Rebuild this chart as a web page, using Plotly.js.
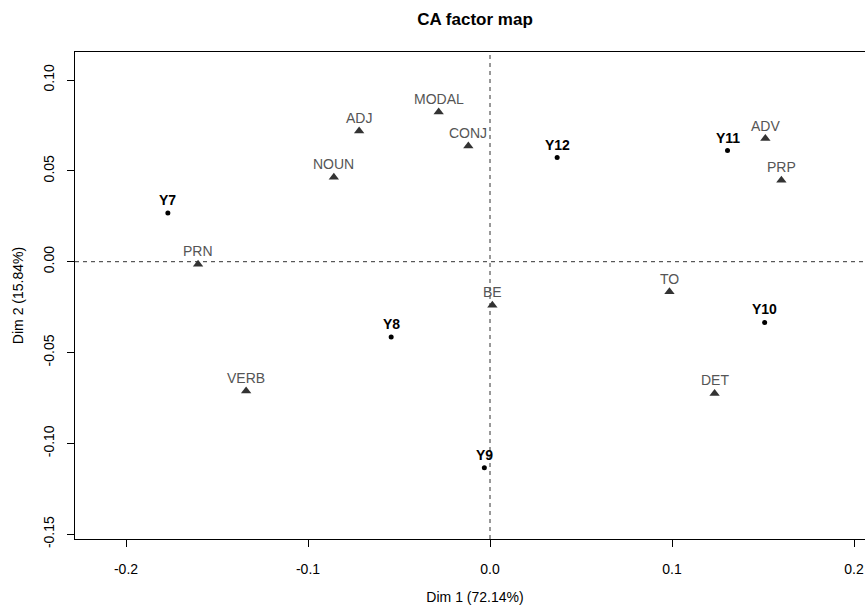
<!DOCTYPE html>
<html>
<head>
<meta charset="utf-8">
<script src="https://cdn.plot.ly/plotly-3.0.1.min.js"></script>
<style>
html, body { margin: 0; padding: 0; overflow: hidden; background: #fff; }
#chart { width: 885px; height: 610px; }
</style>
</head>
<body>
<div id="chart"></div>
<script>
// Row points (years)
const rowLabels = ["Y7", "Y8", "Y9", "Y10", "Y11", "Y12"];
const rowDim1 = [-0.1770, -0.0543, -0.0031, 0.1509, 0.1305, 0.0369];
const rowDim2 = [0.0268, -0.0415, -0.1134, -0.0334, 0.0612, 0.0573];

// Column points (parts of speech)
const colLabels = ["MODAL", "ADJ", "CONJ", "NOUN", "PRN", "BE", "VERB", "ADV", "PRP", "TO", "DET"];
const colDim1 = [-0.0282, -0.0719, -0.0119, -0.0858, -0.1604, 0.0013, -0.1340, 0.1513, 0.1601, 0.0986, 0.1234];
const colDim2 = [0.0824, 0.0719, 0.0637, 0.0465, -0.0014, -0.0239, -0.0712, 0.0678, 0.0448, -0.0166, -0.0725];

// Tick labels
const xTickVals = [-0.2, -0.1, 0.0, 0.1, 0.2];
const xTickText = ["-0.2", "-0.1", "0.0", "0.1", "0.2"];
const yTickVals = [0.10, 0.05, 0.00, -0.05, -0.10, -0.15];
const yTickText = ["0.10", "0.05", "0.00", "-0.05", "-0.10", "-0.15"];

const FONT = "Liberation Sans, Arial, Helvetica, sans-serif";

const traces = [
  {
    type: "scatter", mode: "markers",
    x: rowDim1, y: rowDim2,
    marker: { symbol: "circle", size: 5, color: "#000000" },
    hoverinfo: "skip", showlegend: false
  },
  {
    type: "scatter", mode: "markers",
    x: colDim1, y: colDim2,
    marker: { symbol: "triangle-up", size: 9, color: "#333333" },
    hoverinfo: "skip", showlegend: false
  }
];

const annotations = [];
rowLabels.forEach((t, i) => annotations.push({
  x: rowDim1[i], y: rowDim2[i], xref: "x", yref: "y", text: "<b>" + t + "</b>",
  showarrow: false, yshift: 13, font: { family: FONT, size: 14, color: "#000000" }
}));
colLabels.forEach((t, i) => annotations.push({
  x: colDim1[i], y: colDim2[i], xref: "x", yref: "y", text: t,
  showarrow: false, yshift: 13, font: { family: FONT, size: 14, color: "#555555" }
}));

const layout = {
  width: 885, height: 610,
  margin: { l: 75, r: 10, t: 52, b: 71 },
  paper_bgcolor: "#ffffff", plot_bgcolor: "#ffffff",
  font: { family: FONT, size: 14, color: "#000000" },
  title: {
    text: "<b>CA factor map</b>",
    font: { family: FONT, size: 17, color: "#000000" },
    x: 0.5, xref: "paper", xanchor: "center",
    y: 1 - 19 / 610, yref: "container", yanchor: "middle"
  },
  xaxis: {
    range: [-0.22802, 0.21154],
    tickmode: "array", tickvals: xTickVals, ticktext: xTickText,
    ticks: "outside", ticklen: 7, tickcolor: "#000", tickwidth: 1,
    ticklabelstandoff: 10,
    showgrid: false, zeroline: false,
    showline: true, mirror: true, linecolor: "#000", linewidth: 1,
    tickfont: { family: FONT, size: 14, color: "#000" },
    title: { text: "Dim 1 (72.14%)", font: { family: FONT, size: 14, color: "#000" }, standoff: 16 }
  },
  yaxis: {
    range: [-0.15261, 0.11541],
    tickmode: "array", tickvals: yTickVals, ticktext: yTickText,
    ticks: "outside", ticklen: 7, tickcolor: "#000", tickwidth: 1,
    tickangle: -90, ticklabelstandoff: 7,
    showgrid: false, zeroline: false,
    showline: true, mirror: true, linecolor: "#000", linewidth: 1,
    tickfont: { family: FONT, size: 14, color: "#000" },
    title: { text: "Dim 2 (15.84%)", font: { family: FONT, size: 14, color: "#000" }, standoff: 14 }
  },
  shapes: [
    { type: "line", xref: "x", yref: "paper", x0: 0, x1: 0, y0: 0, y1: 1,
      line: { color: "#333333", width: 1, dash: "4px,4px" } },
    { type: "line", xref: "paper", yref: "y", x0: 0, x1: 1, y0: 0, y1: 0,
      line: { color: "#333333", width: 1, dash: "4px,4px" } }
  ],
  annotations: annotations
};

Plotly.newPlot("chart", traces, layout, { staticPlot: true, displayModeBar: false });
</script>
</body>
</html>
